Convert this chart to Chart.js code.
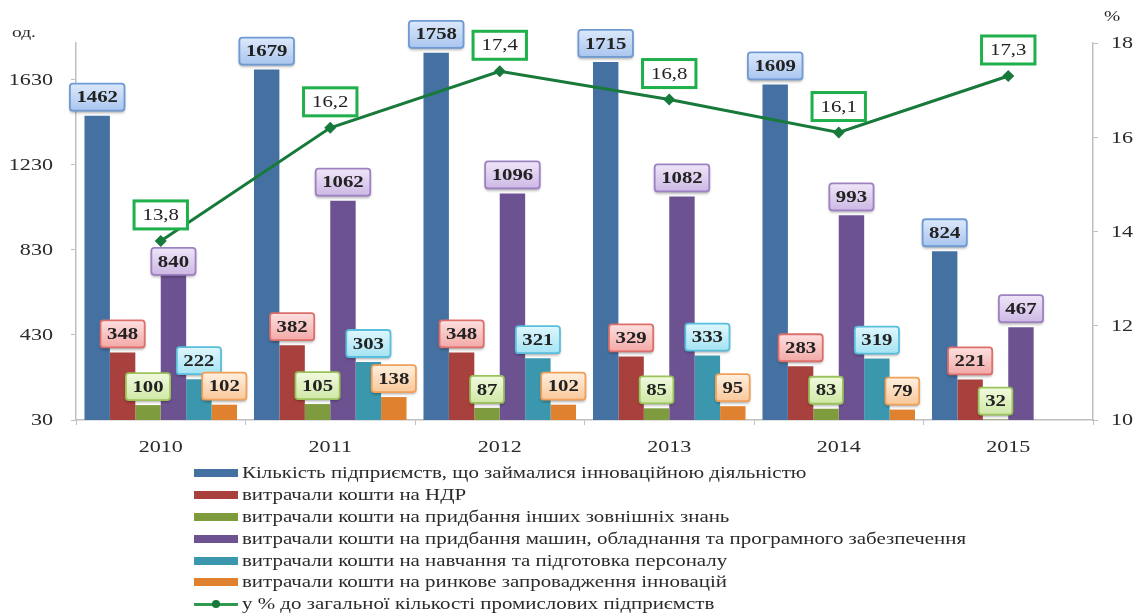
<!DOCTYPE html>
<html><head><meta charset="utf-8">
<script src="https://cdn.jsdelivr.net/npm/chart.js@4"></script>
<style>
html,body{margin:0;padding:0;background:#fff;}
#wrap{position:relative;width:1134px;height:613px;overflow:hidden;}
canvas{position:absolute;left:0;top:0;}
#legend{position:absolute;left:194px;top:462px;font-family:'Liberation Serif','Times New Roman',serif;font-size:17px;color:#2a2a2a;}
.row{height:21.9px;display:flex;align-items:center;white-space:nowrap;}
.sw{width:44px;height:8px;margin-right:4px;flex:none;position:relative;}
.txt{display:inline-block;transform:scaleX(1.23);transform-origin:left center;}
</style></head>
<body><div id="wrap"><canvas id="c" width="1134" height="613"></canvas><div id="legend"></div></div>
<script>
const categories = ['2010','2011','2012','2013','2014','2015'];
const enterprises = [1462,1679,1758,1715,1609,824];
const rdSpending = [348,382,348,329,283,221];
const externalKnowledge = [100,105,87,85,83,32];
const machinery = [840,1062,1096,1082,993,467];
const training = [222,303,321,333,319,null];
const marketIntro = [102,138,102,95,79,null];
const sharePercent = [13.8,16.2,17.4,16.8,16.1,17.3];
const leftTicks = [30,430,830,1230,1630];
const rightTicks = [10,12,14,16,18];
const seriesNames = [
  'Кількість підприємств, що займалися інноваційною діяльністю',
  'витрачали кошти на НДР',
  'витрачали кошти на придбання інших зовнішніх знань',
  'витрачали кошти на придбання машин, обладнання та програмного забезпечення',
  'витрачали кошти на навчання та підготовка персоналу',
  'витрачали кошти на ринкове запровадження інновацій',
  'у % до загальної кількості промислових підприємств'
];
const leftUnit = 'од.';
const rightUnit = '%';

const barColors = ['#4471a2','#a8403d','#7e9b3e','#6d5292','#3a97ad','#e0812f'];
const lblFill = [['#dde9fb','#a9c5ee'],['#fde0df','#f2a9a7'],['#f1fadf','#cfe8a6'],['#efe6f8','#cdb8e4'],['#def7fd','#a6e3f3'],['#fff0e0','#f9c89a']];
const lblBorder = ['#6f9ad4','#dc6f6c','#9cc25b','#9d82c2','#58bedb','#f0a058'];
const lineColor = '#17793a';
const lineLblBorder = '#1fb04b';
const SX = 1.3;
const FONT = "'Liberation Serif','Times New Roman',serif";

const barData = [enterprises, rdSpending, externalKnowledge, machinery, training, marketIntro];

function rr(ctx,x,y,w,h,r){
  ctx.beginPath();
  ctx.moveTo(x+r,y);ctx.lineTo(x+w-r,y);ctx.quadraticCurveTo(x+w,y,x+w,y+r);
  ctx.lineTo(x+w,y+h-r);ctx.quadraticCurveTo(x+w,y+h,x+w-r,y+h);
  ctx.lineTo(x+r,y+h);ctx.quadraticCurveTo(x,y+h,x,y+h-r);
  ctx.lineTo(x,y+r);ctx.quadraticCurveTo(x,y,x+r,y);ctx.closePath();
}
function stretchedText(ctx,text,x,y,align,sx){
  sx = sx||SX;
  const w = ctx.measureText(text).width*sx;
  ctx.save();
  let px = x;
  if(align==='center') px = x - w/2; else if(align==='right') px = x - w;
  ctx.translate(px,y); ctx.scale(sx,1);
  ctx.textAlign='left'; ctx.textBaseline='middle';
  ctx.fillText(text,0,0);
  ctx.restore();
  return w;
}
function lineLabelBox(ctx,el,t){
  ctx.save(); ctx.font = '16px '+FONT;
  const tw = ctx.measureText(t).width*SX; ctx.restore();
  const w = tw+17, h = 28;
  return {x:el.x-w/2, y:el.y-12-h, w, h};
}
function overlap(a,b){
  return a.x < b.x+b.w && b.x < a.x+a.w && a.y < b.y+b.h && b.y < a.y+a.h;
}

const labelPlugin = {
  id:'labels',
  afterDatasetsDraw(chart){
    const ctx = chart.ctx;
    // collect line label boxes
    const lineBoxes = [];
    chart.data.datasets.forEach((ds,di)=>{
      if(ds.type!=='line') return;
      chart.getDatasetMeta(di).data.forEach((el,i)=>{
        const t = String(ds.data[i]).replace('.',',');
        lineBoxes.push({box:lineLabelBox(ctx,el,t),t,el});
      });
    });
    // bar labels
    chart.data.datasets.forEach((ds,di)=>{
      if(ds.type==='line') return;
      const meta = chart.getDatasetMeta(di);
      meta.data.forEach((el,i)=>{
        const v = ds.data[i];
        if(v===null||v===undefined) return;
        ctx.save();
        ctx.font = 'bold 16px '+FONT;
        const tw = ctx.measureText(String(v)).width*SX;
        const w = tw+13, h = 27;
        const x = el.x - w/2;
        let y = el.y - 5 - h;
        const b = {x,y,w,h};
        if(lineBoxes.some(lb=>overlap(lb.box,b))) y = el.y;
        ctx.shadowColor='rgba(0,0,0,0.35)'; ctx.shadowBlur=3; ctx.shadowOffsetY=2;
        const g = ctx.createLinearGradient(0,y,0,y+h);
        g.addColorStop(0,lblFill[di][0]); g.addColorStop(1,lblFill[di][1]);
        rr(ctx,x,y,w,h,3); ctx.fillStyle=g; ctx.fill();
        ctx.shadowColor='transparent';
        ctx.lineWidth=1.8; ctx.strokeStyle=lblBorder[di]; ctx.stroke();
        ctx.fillStyle='#222';
        stretchedText(ctx,String(v),el.x,y+h/2+1,'center');
        ctx.restore();
      });
    });
    // line labels
    lineBoxes.forEach(({box,t,el})=>{
      ctx.save();
      ctx.font = '16px '+FONT;
      ctx.fillStyle='#fff'; ctx.fillRect(box.x,box.y,box.w,box.h);
      ctx.lineWidth=3; ctx.strokeStyle=lineLblBorder; ctx.strokeRect(box.x,box.y,box.w,box.h);
      ctx.fillStyle='#222';
      stretchedText(ctx,t,el.x,box.y+box.h/2+1,'center');
      ctx.restore();
    });
  },
  afterDraw(chart){
    const ctx = chart.ctx;
    const yl = chart.scales.y, yr = chart.scales.y1, xs = chart.scales.x;
    ctx.save();
    ctx.font = '17px '+FONT;
    ctx.fillStyle='#2a2a2a';
    leftTicks.forEach(v=>stretchedText(ctx,String(v),53,yl.getPixelForValue(v)+1,'right'));
    rightTicks.forEach(v=>stretchedText(ctx,String(v),1111,yr.getPixelForValue(v)+1,'left'));
    categories.forEach((c,i)=>stretchedText(ctx,c,xs.getPixelForValue(i),448,'center'));
    ctx.font = '15px '+FONT;
    stretchedText(ctx,leftUnit,12,33,'left');
    stretchedText(ctx,rightUnit,1104,17,'left');
    ctx.restore();
  }
};

const datasets = barData.map((d,i)=>({
  type:'bar', label:seriesNames[i], data:d, backgroundColor:barColors[i],
  borderWidth:0, yAxisID:'y', order:1, categoryPercentage:0.9, barPercentage:1.0
}));
datasets.push({
  type:'line', label:seriesNames[6], data:sharePercent, yAxisID:'y1', order:0,
  borderColor:lineColor, backgroundColor:lineColor, borderWidth:3,
  pointStyle:'rectRot', pointRadius:6, pointBackgroundColor:lineColor, pointBorderWidth:0,
  tension:0, fill:false
});

new Chart(document.getElementById('c'),{
  data:{labels:categories,datasets},
  plugins:[labelPlugin],
  options:{
    responsive:false, animation:false, events:[],
    layout:{padding:{top:43,bottom:153,left:0,right:0}},
    plugins:{legend:{display:false},tooltip:{enabled:false}},
    scales:{
      x:{
        offset:true,
        grid:{display:true,drawOnChartArea:false,offset:true,tickLength:5,color:'#bfbfbf'},
        border:{display:true,color:'#bfbfbf',width:1.5},
        ticks:{display:false},
        afterFit(s){s.height=40;}
      },
      y:{
        position:'left', min:30, max:1804,
        afterBuildTicks(s){s.ticks = leftTicks.map(v=>({value:v}));},
        grid:{display:true,drawOnChartArea:false,tickLength:5,color:'#bfbfbf'},
        border:{display:true,color:'#bfbfbf',width:1.5},
        ticks:{display:false},
        afterFit(s){s.width=76;}
      },
      y1:{
        position:'right', min:10, max:18,
        afterBuildTicks(s){s.ticks = rightTicks.map(v=>({value:v}));},
        grid:{display:true,drawOnChartArea:false,tickLength:5,color:'#bfbfbf'},
        border:{display:true,color:'#bfbfbf',width:1.5},
        ticks:{display:false},
        afterFit(s){s.width=41;}
      }
    }
  }
});

// legend
const lg = document.getElementById('legend');
seriesNames.forEach((n,i)=>{
  const row = document.createElement('div'); row.className='row';
  const sw = document.createElement('div'); sw.className='sw';
  if(i<6){ sw.style.background = barColors[i]; }
  else {
    sw.style.height='10px';
    sw.innerHTML = '<div style="position:absolute;left:0;right:0;top:4px;height:3px;background:#2f9a4f"></div>'+
      '<div style="position:absolute;left:18px;top:1px;width:8px;height:8px;border-radius:50%;background:'+lineColor+'"></div>';
  }
  const tx = document.createElement('span'); tx.className='txt'; tx.textContent=n;
  row.appendChild(sw); row.appendChild(tx); lg.appendChild(row);
});
</script>
</body></html>
